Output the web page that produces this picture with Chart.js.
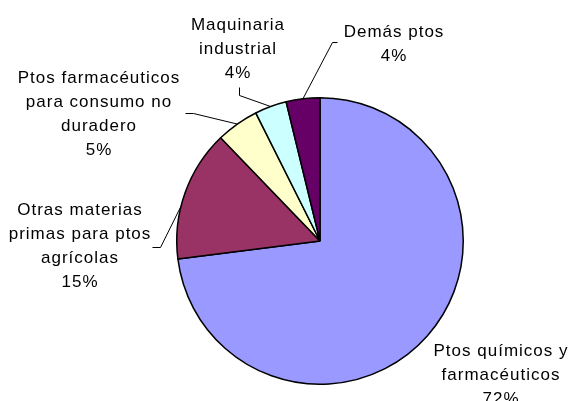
<!DOCTYPE html>
<html>
<head>
<meta charset="utf-8">
<script src="https://cdn.jsdelivr.net/npm/chart.js@4"></script>
<style>
  html, body { margin: 0; padding: 0; background: #fff; }
  #wrap { width: 575px; height: 401px; }
</style>
</head>
<body>
<div id="wrap"><canvas id="myChart" width="575" height="401"></canvas></div>
<script>
// categorias (una linea por elemento, como en el grafico)
const categorias = [
    ['Ptos químicos y', 'farmacéuticos'],
    ['Otras materias', 'primas para ptos', 'agrícolas'],
    ['Ptos farmacéuticos', 'para consumo no', 'duradero'],
    ['Maquinaria', 'industrial'],
    ['Demás ptos']
];
// valores (% del total)
const valores = [73.0, 14.8, 4.8, 3.6, 3.8];
// porcentajes tal como aparecen en las etiquetas
const porcentajes = ['72%', '15%', '5%', '4%', '4%'];
const colores = ['#9999FF', '#993366', '#FFFFCC', '#CCFFFF', '#660066'];

// posicion de cada etiqueta (centro de la primera linea) y lineas guia
const etiquetas = [
    { x: 501, y: 351, guia: null, frac: 0.5 },
    { x: 80, y: 210, guia: [[152, 247], [160, 247]], frac: 0.4 },
    { x: 99, y: 78, guia: [[185, 113], [193, 113]], frac: 0.5 },
    { x: 238, y: 25, guia: [[239, 87], [239, 95]], frac: 0.5 },
    { x: 394, y: 32, guia: [[337, 42], [332, 42]], frac: 0.5 }
];
const altoLinea = 24;

// plugin pour dessiner les etiquettes
const etiquetasPlugin = {
    id: 'etiquetas',
    afterDraw(chart) {
        const ctx = chart.ctx;
        const arcs = chart.getDatasetMeta(0).data;
        ctx.save();
        // lineas guia
        ctx.strokeStyle = '#000';
        ctx.lineWidth = 1;
        arcs.forEach((arc, i) => {
            const e = etiquetas[i];
            if (!e.guia) return;
            const a = arc.startAngle + (arc.endAngle - arc.startAngle) * e.frac;
            const px = arc.x + Math.cos(a) * arc.outerRadius;
            const py = arc.y + Math.sin(a) * arc.outerRadius;
            ctx.beginPath();
            ctx.moveTo(e.guia[0][0] + 0.5, e.guia[0][1] + 0.5);
            ctx.lineTo(e.guia[1][0] + 0.5, e.guia[1][1] + 0.5);
            ctx.lineTo(px, py);
            ctx.stroke();
        });
        // textos
        ctx.fillStyle = '#000';
        ctx.font = '17px "Liberation Sans", Arial, sans-serif';
        ctx.letterSpacing = '1px';
        ctx.textAlign = 'center';
        ctx.textBaseline = 'middle';
        categorias.forEach((lineas, i) => {
            const e = etiquetas[i];
            const todas = lineas.concat([porcentajes[i]]);
            todas.forEach((t, j) => {
                ctx.fillText(t, e.x, e.y + j * altoLinea);
            });
        });
        ctx.restore();
    }
};

const data = {
    labels: categorias.map(c => c.join(' ')),
    datasets: [{
        data: valores,
        backgroundColor: colores,
        borderColor: '#000',
        borderWidth: 1.5,
        borderAlign: 'center'
    }]
};

const config = {
    type: 'pie',
    data,
    options: {
        responsive: false,
        animation: false,
        layout: {
            padding: { left: 176, right: 111, top: 97, bottom: 16 }
        },
        plugins: {
            legend: { display: false },
            tooltip: { enabled: false }
        }
    },
    plugins: [etiquetasPlugin]
};

const mychart = new Chart(document.getElementById('myChart'), config);
</script>
</body>
</html>
